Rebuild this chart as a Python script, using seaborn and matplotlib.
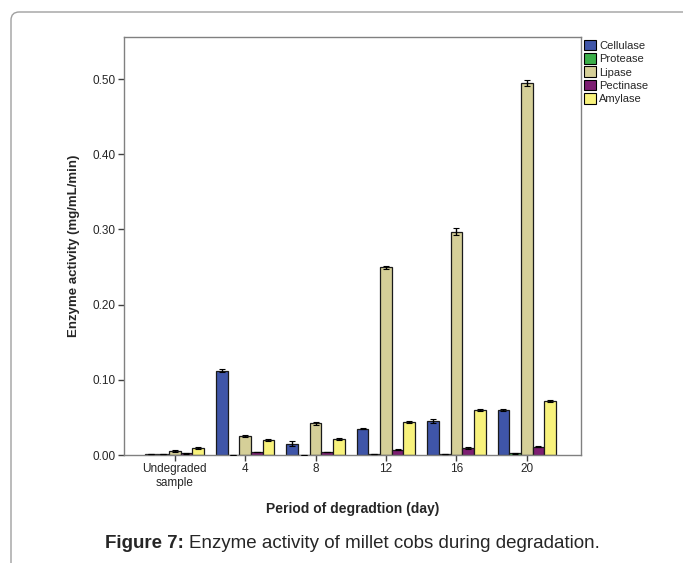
import matplotlib
matplotlib.use("Agg")
import matplotlib.pyplot as plt
import seaborn as sns
import pandas as pd
import numpy as np
from matplotlib.patches import FancyBboxPatch, Patch

periods = ["Undegraded\nsample", "4", "8", "12", "16", "20"]
enzymes = ["Cellulase", "Protease", "Lipase", "Pectinase", "Amylase"]
cellulase = [0.001, 0.112, 0.015, 0.035, 0.045, 0.060]
protease = [0.001, 0.000, 0.000, 0.001, 0.001, 0.002]
lipase = [0.005, 0.025, 0.042, 0.250, 0.297, 0.495]
pectinase = [0.002, 0.004, 0.004, 0.007, 0.009, 0.011]
amylase = [0.009, 0.020, 0.021, 0.044, 0.060, 0.072]
err_cellulase = [0.0003, 0.002, 0.003, 0.001, 0.003, 0.001]
err_protease = [0.0002, 0.0002, 0.0002, 0.0003, 0.0003, 0.0005]
err_lipase = [0.001, 0.001, 0.002, 0.002, 0.005, 0.004]
err_pectinase = [0.0003, 0.0005, 0.0005, 0.0005, 0.001, 0.001]
err_amylase = [0.001, 0.001, 0.001, 0.001, 0.001, 0.001]
colors = ["#3F55A8", "#3BAF4A", "#D5CF98", "#7D1E72", "#F8F27C"]

values = [cellulase, protease, lipase, pectinase, amylase]
errors = [err_cellulase, err_protease, err_lipase, err_pectinase, err_amylase]

rows = []
for e, vals, errs in zip(enzymes, values, errors):
    for p, v, s in zip(periods, vals, errs):
        rows.append({"Period": p, "Enzyme": e, "Activity": v, "Err": s})
df = pd.DataFrame(rows)

sns.set_style("white")
plt.rcParams["font.family"] = ["Liberation Sans", "DejaVu Sans"]

fig = plt.figure(figsize=(6.83, 5.63), dpi=100)
ax = fig.add_axes([124/683, 1-455/563, (581-124)/683, (455-37)/563])

sns.barplot(data=df, x="Period", y="Activity", hue="Enzyme", order=periods,
            hue_order=enzymes, palette=colors, saturation=1, width=0.83,
            errorbar=None, edgecolor="#1a1a1a", linewidth=0.9, legend=False, ax=ax)

# error bars at bar centres
for i, e in enumerate(enzymes):
    cont = ax.containers[i]
    xs = [b.get_x() + b.get_width()/2 for b in cont]
    ax.errorbar(xs, values[i], yerr=errors[i], fmt="none", ecolor="black",
                elinewidth=1.0, capsize=2, capthick=0.8, zorder=5)

ax.set_xlim(-0.72, 5.77)
ax.set_ylim(0, 0.556)
ax.set_yticks([0, 0.1, 0.2, 0.3, 0.4, 0.5])
ax.set_yticklabels([f"{t:.2f}" for t in [0, 0.1, 0.2, 0.3, 0.4, 0.5]])
for sp in ax.spines.values():
    sp.set_visible(True)
    sp.set_color("#808080")
    sp.set_linewidth(1.0)
ax.tick_params(axis="both", which="both", direction="out", length=4, width=1,
               color="#404040", labelsize=8.5, pad=2, left=True, bottom=True)
ax.set_xlabel("Period of degradtion (day)", fontsize=10, fontweight="bold", labelpad=9)
ax.set_ylabel("Enzyme activity (mg/mL/min)", fontsize=9.5, fontweight="bold", labelpad=9)

handles = [Patch(facecolor=c, edgecolor="black", linewidth=0.8) for c in colors]
ax.legend(handles, enzymes, loc="upper left", bbox_to_anchor=(1.0, 1.0),
          frameon=False, fontsize=8, handlelength=1.1, handleheight=1.1,
          handletextpad=0.3, labelspacing=0.2, borderaxespad=0.15, borderpad=0.1)

# caption
yc = 1 - 543/563
t1 = fig.text(105/683, yc, "Figure 7:", fontsize=13.5, fontweight="bold",
              ha="left", va="center")
fig.canvas.draw()
bb = t1.get_window_extent(renderer=fig.canvas.get_renderer())
fig.text((bb.x1 + 5)/683, yc, "Enzyme activity of millet cobs during degradation.",
         fontsize=13.5, ha="left", va="center")

# outer frame
frame = FancyBboxPatch((11/683, -0.2), 1.3, 1.2 - 12/563,
                       boxstyle="round,pad=0,rounding_size=0.012",
                       mutation_aspect=683/563,
                       transform=fig.transFigure, facecolor="none",
                       edgecolor="#A0A0A0", linewidth=1.0, clip_on=False)
fig.patches.append(frame)

fig.savefig("out.png", dpi=100)
